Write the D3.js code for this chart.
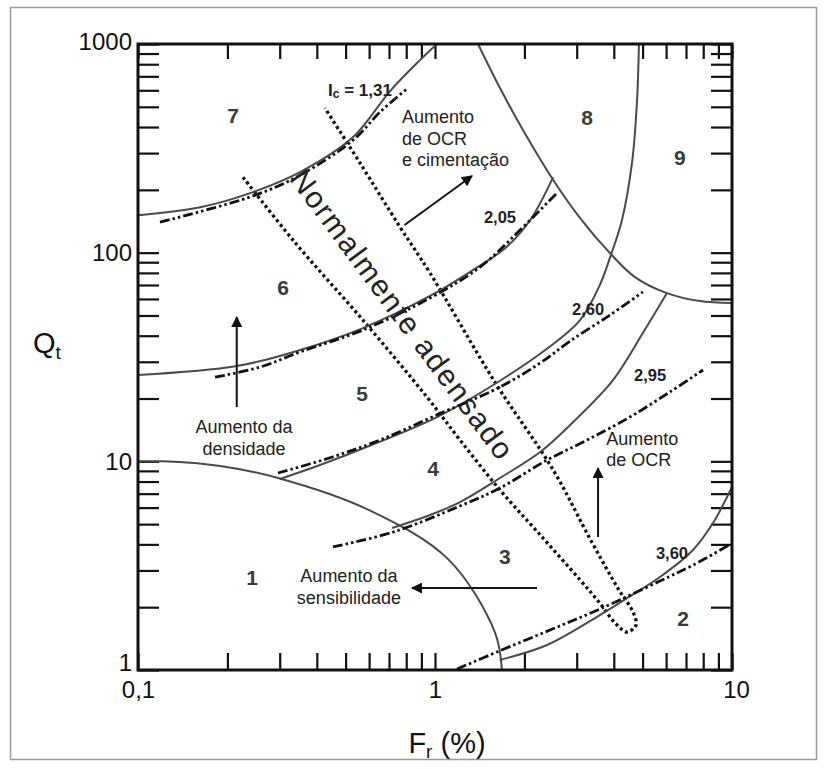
<!DOCTYPE html>
<html>
<head>
<meta charset="utf-8">
<script src="https://cdn.jsdelivr.net/npm/d3@7/dist/d3.min.js"></script>
<style>
  html, body { margin: 0; padding: 0; background: #fff; }
  svg { display: block; font-family: "Liberation Sans", Arial, sans-serif; }
</style>
</head>
<body>
<svg id="chart" width="826" height="769"></svg>
<script>
// Soil behaviour type chart: normalised cone resistance Qt vs friction ratio Fr (%)

// Axis ticks and labels
const xMajor = [0.1, 1, 10];
const xMajorLabels = ["0,1", "1", "10"];
const yMajor = [1, 10, 100, 1000];
const yMajorLabels = ["1", "10", "100", "1000"];

// Zone boundaries (solid lines), points as [Fr, Qt]
const zone1Boundary = [[0.1, 10.0], [0.121, 10.0], [0.189, 9.5], [0.298, 8.3], [0.60, 5.84], [1.107, 3.4], [1.59, 1.52], [1.68, 1.0]];
const zone67Boundary = [[0.1, 151], [0.162, 165], [0.244, 195], [0.351, 243], [0.53, 358], [0.706, 595], [0.89, 837], [1.015, 1000]];
const zone56Boundary = [[0.1, 25.9], [0.215, 28.6], [0.343, 33.8], [0.572, 43.5], [0.962, 62], [1.31, 80.7], [1.734, 106], [2.09, 143], [2.50, 230]];
const zone45Boundary = [[0.3007, 8.23], [0.41, 9.6], [0.5995, 11.84], [1.016, 16.3], [1.63, 24], [2.40, 34.9], [3.08, 47.5], [3.59, 70], [3.91, 97.4], [4.26, 143], [4.61, 272], [4.79, 539], [4.86, 1000]];
const zone34Boundary = [[0.7167, 4.79], [0.962, 5.53], [1.214, 6.38], [1.655, 8.32], [2.26, 11.08], [2.915, 15.4], [3.975, 24.5], [5.01, 41.2], [6.04, 64]];
const zone23Boundary = [[1.65, 1.117], [2.383, 1.318], [3.59, 1.834], [4.43, 2.21], [5.72, 2.79], [7.39, 3.76], [8.63, 5.06], [10, 7.53]];
const zone89Boundary = [[1.396, 1000], [1.655, 615], [1.978, 387], [2.50, 223], [3.08, 146.5], [3.88, 99.6], [4.71, 76.4], [6.04, 64], [7.80, 58.6], [10, 57.4]];

// Ic contours (dash-dot lines)
const ic131 = [[0.1186, 140], [0.244, 187], [0.351, 235], [0.53, 346], [0.653, 472], [0.811, 615]];
const ic205 = [[0.1817, 25.3], [0.2576, 28.3], [0.351, 33.4], [0.572, 42.6], [0.962, 60.6], [1.418, 85.3], [1.93, 128], [2.59, 195]];
const ic260 = [[0.296, 8.79], [0.443, 10.4], [0.653, 12.65], [1.016, 16.7], [1.655, 22.7], [2.26, 29.6], [2.85, 37.7], [3.88, 50.2], [5.01, 64.8]];
const ic295 = [[0.4535, 3.89], [0.7224, 4.58], [1.214, 6.11], [1.655, 7.45], [2.383, 10.14], [3.25, 12.65], [4.53, 16.3], [6.18, 21.5], [7.99, 27.4]];
const ic360 = [[1.186, 1.011], [1.617, 1.22], [2.44, 1.555], [3.59, 1.96], [5.72, 2.67], [7.39, 3.18], [9.92, 4.02]];

// Normally consolidated band (dotted loop)
const ncLeft = [[0.2257, 230], [0.3325, 114.9], [0.572, 47.5], [0.940, 20.3], [1.214, 12.65], [1.655, 7.29], [2.26, 4.44], [3.08, 2.70], [3.59, 2.09], [4.04, 1.68], [4.43, 1.52]];
const ncRight = [[0.4262, 493], [0.559, 269], [0.7623, 132.7], [0.962, 79.9], [1.59, 24], [2.50, 9.09], [3.33, 4.24], [4.16, 2.42], [4.64, 1.90], [4.75, 1.64], [4.43, 1.52]];

// Zone numbers
const zoneNames = ["1", "2", "3", "4", "5", "6", "7", "8", "9"];
const zoneFr = [0.242, 6.84, 1.72, 0.985, 0.5677, 0.3077, 0.209, 3.25, 6.68];
const zoneQt = [2.79, 1.775, 3.48, 9.29, 21.2, 68.4, 456, 442, 287];

// Ic contour labels
const icLabels = ["2,05", "2,60", "2,95", "3,60"];
const icLabelFr = [1.655, 3.275, 5.30, 6.28];
const icLabelQt = [148, 53.7, 25.9, 3.64];

// Trend arrows [from, to]
const arrows = [
  [[0.79, 135.7], [1.332, 233]],
  [[0.215, 18.2], [0.215, 49.1]],
  [[3.54, 4.34], [3.54, 9.29]],
  [[2.205, 2.47], [0.837, 2.47]]
];

const svg = d3.select("#chart");
const pL = 138, pR = 732, pT = 44, pB = 670;

const x = d3.scaleLog().domain([0.1, 10]).range([pL, pR]);
const y = d3.scaleLog().domain([1, 1000]).range([pB, pT]);

// outer picture border
svg.append("rect").attr("x", 10.5).attr("y", 7.5).attr("width", 806).attr("height", 752)
  .attr("fill", "none").attr("stroke", "#9a9a9a").attr("stroke-width", 1.5);

const defs = svg.append("defs");
defs.append("clipPath").attr("id", "plotclip")
  .append("rect").attr("x", pL).attr("y", pT).attr("width", pR - pL).attr("height", pB - pT);

defs.append("marker").attr("id", "arrowhead")
  .attr("viewBox", "0 0 10 10").attr("refX", 9).attr("refY", 5)
  .attr("markerWidth", 12).attr("markerHeight", 11).attr("markerUnits", "userSpaceOnUse")
  .attr("orient", "auto")
  .append("path").attr("d", "M0,0 L10,5 L0,10 Z").attr("fill", "#111");

// minor + major ticks on all four sides
const allX = [], allY = [];
[0.1, 1].forEach(d => { for (let k = 1; k <= 9; k++) allX.push(+(d * k).toPrecision(3)); });
allX.push(10);
[1, 10, 100].forEach(d => { for (let k = 1; k <= 9; k++) allY.push(+(d * k).toPrecision(3)); });
allY.push(1000);

function styleAxis(g) {
  g.select(".domain").remove();
  g.selectAll(".tick line").attr("stroke", "#111").attr("stroke-width", 2.2);
}
svg.append("g").attr("transform", `translate(0,${pB})`)
  .call(d3.axisBottom(x).tickValues(allX).tickSize(-17).tickFormat("")).call(styleAxis);
svg.append("g").attr("transform", `translate(0,${pT})`)
  .call(d3.axisTop(x).tickValues(allX).tickSize(-15).tickFormat("")).call(styleAxis);
svg.append("g").attr("transform", `translate(${pL},0)`)
  .call(d3.axisLeft(y).tickValues(allY).tickSize(-21).tickFormat("")).call(styleAxis);
svg.append("g").attr("transform", `translate(${pR},0)`)
  .call(d3.axisRight(y).tickValues(allY).tickSize(-21).tickFormat("")).call(styleAxis);

// tick labels
const xl = svg.append("g").attr("transform", `translate(0,${pB})`)
  .call(d3.axisBottom(x).tickValues(xMajor).tickSize(0).tickPadding(11)
    .tickFormat((d, i) => xMajorLabels[i]));
xl.select(".domain").remove();
xl.selectAll("text").attr("font-size", 24).attr("fill", "#111")
  .attr("font-family", "Liberation Sans, Arial, sans-serif");
xl.selectAll(".tick").filter(d => d === 10).select("text").attr("dx", 4);

const yl = svg.append("g").attr("transform", `translate(${pL - 6},0)`)
  .call(d3.axisLeft(y).tickValues(yMajor).tickSize(0).tickPadding(0)
    .tickFormat((d, i) => yMajorLabels[i]));
yl.select(".domain").remove();
yl.selectAll("text").attr("font-size", 24).attr("fill", "#111")
  .attr("font-family", "Liberation Sans, Arial, sans-serif");
yl.selectAll(".tick").filter(d => d === 1).select("text").attr("dy", "0.02em");
yl.selectAll(".tick").filter(d => d === 1000).select("text").attr("dy", "0.24em");

// plot contents
const plot = svg.append("g").attr("clip-path", "url(#plotclip)");
const line = d3.line().x(d => x(d[0])).y(d => y(d[1])).curve(d3.curveCatmullRom.alpha(0.5));

// normally consolidated band
plot.append("path").datum(ncLeft.concat(ncRight.slice().reverse().slice(1)))
  .attr("d", line).attr("fill", "none").attr("stroke", "#111")
  .attr("stroke-width", 3.3).attr("stroke-dasharray", "3 3");

// zone boundaries
[zone1Boundary, zone67Boundary, zone56Boundary, zone45Boundary, zone34Boundary, zone23Boundary, zone89Boundary]
  .forEach(b => plot.append("path").datum(b).attr("d", line)
    .attr("fill", "none").attr("stroke", "#4a4a4a").attr("stroke-width", 2));

// Ic contours
[ic131, ic205, ic260, ic295, ic360].forEach(c => plot.append("path").datum(c).attr("d", line)
  .attr("fill", "none").attr("stroke", "#111").attr("stroke-width", 2.8)
  .attr("stroke-dasharray", "10 3 2.5 3 2.5 3"));

// arrows
arrows.forEach(a => plot.append("line")
  .attr("x1", x(a[0][0])).attr("y1", y(a[0][1]))
  .attr("x2", x(a[1][0])).attr("y2", y(a[1][1]))
  .attr("stroke", "#111").attr("stroke-width", 2).attr("marker-end", "url(#arrowhead)"));

// frame
svg.append("rect").attr("x", pL).attr("y", pT).attr("width", pR - pL).attr("height", pB - pT)
  .attr("fill", "none").attr("stroke", "#111").attr("stroke-width", 3);

// zone numbers
zoneNames.forEach((n, i) => svg.append("text")
  .attr("x", x(zoneFr[i])).attr("y", y(zoneQt[i]))
  .attr("text-anchor", "middle").attr("dominant-baseline", "central")
  .attr("font-size", 21).attr("font-weight", "bold").attr("fill", "#3a3a3a").text(n));

// Ic labels
icLabels.forEach((t, i) => svg.append("text")
  .attr("x", x(icLabelFr[i])).attr("y", y(icLabelQt[i]))
  .attr("text-anchor", "middle").attr("dominant-baseline", "central")
  .attr("font-size", 16.5).attr("font-weight", "bold").attr("fill", "#222").text(t));

const ic = svg.append("text").attr("x", x(0.559)).attr("y", y(601))
  .attr("text-anchor", "middle").attr("dominant-baseline", "central")
  .attr("font-size", 17).attr("font-weight", "bold").attr("fill", "#222");
ic.append("tspan").text("I");
ic.append("tspan").attr("font-size", 12).attr("dy", 4).text("c");
ic.append("tspan").attr("dy", -4).text(" = 1,31");

// annotation blocks
function block(lines, fr, qt, anchor) {
  const t = svg.append("text").attr("x", x(fr)).attr("y", y(qt))
    .attr("text-anchor", anchor).attr("font-size", 18).attr("fill", "#222")
    .attr("dominant-baseline", "central");
  lines.forEach((s, i) => t.append("tspan").attr("x", x(fr)).attr("dy", i === 0 ? 0 : 21.5).text(s));
}
block(["Aumento", "de OCR", "e cimentação"], 0.774, 446, "start");
block(["Aumento da", "densidade"], 0.2275, 14.6, "middle");
block(["Aumento", "de OCR"], 3.77, 12.8, "start");
block(["Aumento da", "sensibilidade"], 0.513, 2.82, "middle");

// band label
svg.append("text")
  .attr("transform", `translate(${x(0.774)},${y(50.8)}) rotate(53.4)`)
  .attr("text-anchor", "middle").attr("dominant-baseline", "central")
  .attr("font-size", 30).attr("fill", "#222")
  .attr("textLength", 352).attr("lengthAdjust", "spacing")
  .text("Normalmente adensado");

// axis titles
const qt = svg.append("text").attr("x", 33).attr("y", 343).attr("dominant-baseline", "central")
  .attr("font-size", 29).attr("fill", "#111");
qt.append("tspan").text("Q");
qt.append("tspan").attr("font-size", 19).attr("dy", 9).text("t");

const fr = svg.append("text").attr("x", 447).attr("y", 743).attr("text-anchor", "middle")
  .attr("dominant-baseline", "central").attr("font-size", 29).attr("fill", "#111");
fr.append("tspan").text("F");
fr.append("tspan").attr("font-size", 19).attr("dy", 8).text("r");
fr.append("tspan").attr("dy", -8).text(" (%)");
</script>
</body>
</html>
